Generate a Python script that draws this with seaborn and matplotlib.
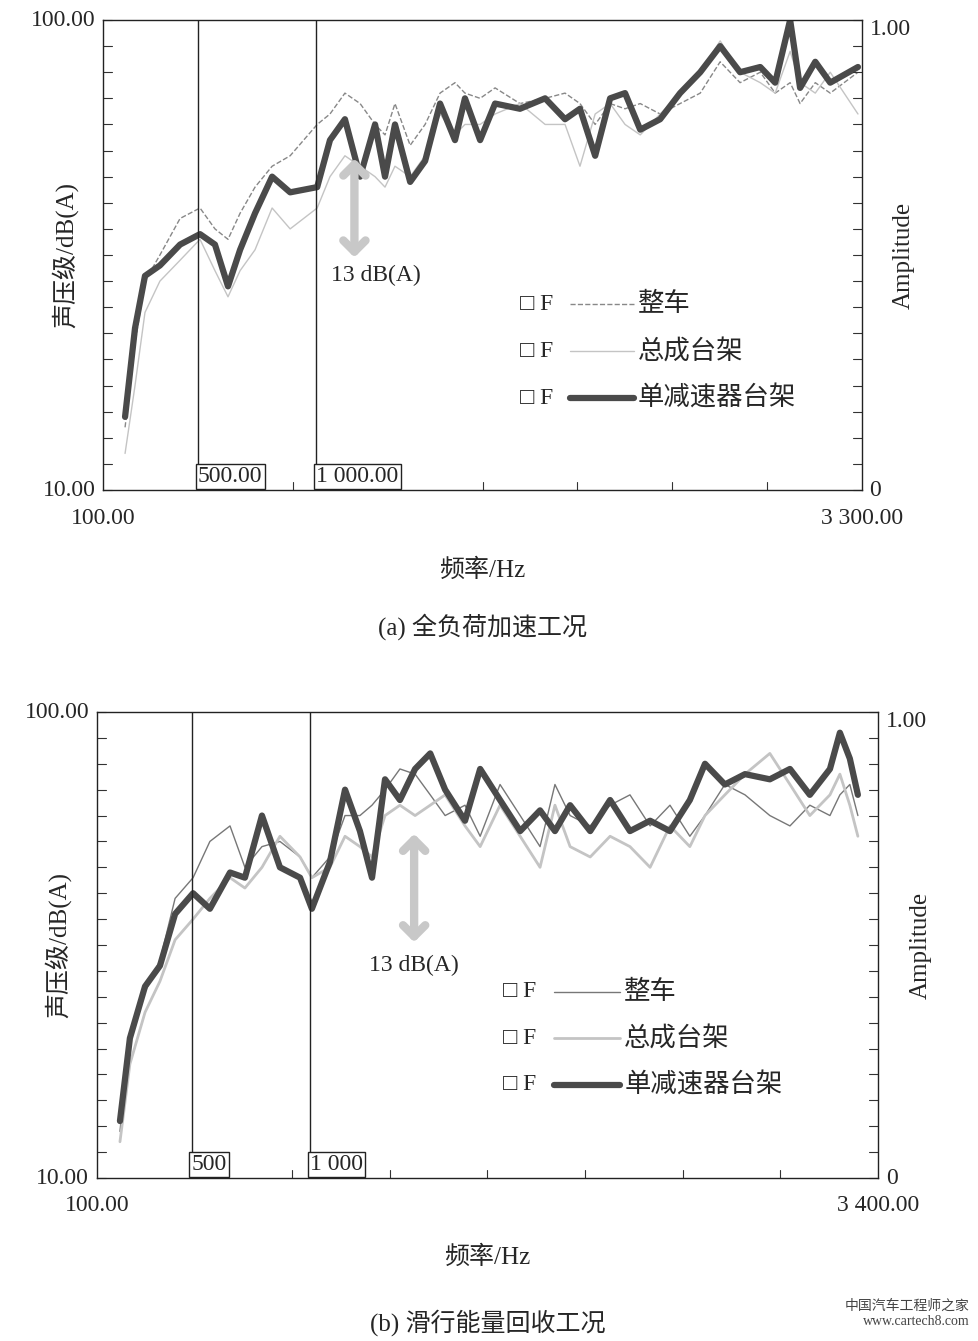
import matplotlib
matplotlib.use("Agg")
import matplotlib.pyplot as plt
import seaborn as sns
import pandas as pd
import numpy as np

sns.set_style("white")
plt.rcParams['font.family'] = ['Liberation Serif', 'Noto Sans CJK SC']

a_freq = [193,235,277,340,425,509,572,627,678,741,813,889,1003,1057,1120,1184,1247,1289,1331,1395,1458,1521,1584,1626,1690,1753,1858,1964,2048,2111,2175,2238,2301,2365,2449,2533,2618,2702,2786,2871,2934,2997,3039,3103,3166,3283]
a_thick = [24,41,51,53,57,59,57,49,56,63,70,67,68,77,81,70,80,70,80,69,73,84,77,85,77,84,83,85,81,83,74,85,86,79,81,86,90,95,90,91,88,100,87,92,88,91]
a_dash = [22,38,50,55,62,64,60,58,63,68,72,74,80,82,86,84,80,78,84,76,80,86,88,86,85,87,84,85,86,84,80,84,83,84,82,84,86,92,88,90,86,88,84,88,86,90]
a_thin = [17,30,44,50,54,58,52,47,52,56,64,60,64,70,74,72,70,68,72,70,74,82,78,80,80,82,84,80,80,72,82,84,80,78,82,86,90,96,90,88,86,94,88,86,90,82]

b_freq = [197,239,303,366,430,506,577,662,725,797,873,958,1008,1084,1148,1211,1262,1317,1380,1444,1508,1571,1655,1719,1803,1888,1972,2035,2099,2184,2268,2352,2437,2521,2605,2669,2753,2838,2943,3028,3112,3197,3239,3281,3315]
b_thick = [21,37,47,51,61,65,62,69,68,80,70,68,62,71,85,77,68,87,83,89,92,85,79,89,83,77,81,77,82,77,83,77,79,77,83,90,86,88,87,89,84,89,96,91,84]
b_thin = [19,38,46,52,64,68,75,78,70,74,75,72,68,72,80,80,82,85,89,88,84,80,82,76,86,80,74,86,80,78,82,84,78,82,76,80,86,84,80,78,82,80,84,86,80]
b_light = [17,32,42,48,56,60,64,68,66,70,76,72,68,70,76,74,72,80,82,80,82,84,78,74,82,76,70,82,74,72,76,74,70,78,74,80,84,88,92,86,80,84,88,82,76]

legend_names = ["整车", "总成台架", "单减速器台架"]

W, H = 979, 1341
fig = plt.figure(figsize=(W/100, H/100), dpi=100)

def px(x0, y0, x1, y1):
    return [x0/W, 1-y1/H, (x1-x0)/W, (y1-y0)/H]

def panel(rect, freq, series, styles, xmax, xmaxlab, boxlabs, arrow, leg, caption, capy, legstyles):
    ax = fig.add_axes(px(*rect))
    for vals, (c, lw, ls) in zip(series, styles):
        df = pd.DataFrame({"f": freq, "v": vals})
        sns.lineplot(data=df, x="f", y="v", ax=ax, color=c, lw=lw, ls=ls)
    ax.set_xlim(100, xmax); ax.set_ylim(10, 100)
    ax.set_xticks([]); ax.set_yticks([])
    ax.set_xlabel(""); ax.set_ylabel("")
    for s in ax.spines.values():
        s.set_color("#222"); s.set_linewidth(1)
    for v in [500, 1000]:
        ax.axvline(v, color="#222", lw=1)
    for y in np.linspace(10, 100, 19):
        ax.plot([100, 100 + (xmax-100)*0.012], [y, y], color="#333", lw=0.8, clip_on=False)
        ax.plot([xmax, xmax - (xmax-100)*0.012], [y, y], color="#333", lw=0.8, clip_on=False)
    for x in np.linspace(100, xmax, 9)[1:-1]:
        ax.plot([x, x], [10, 11.5], color="#333", lw=0.8)
    tr = ax.transAxes
    ax.text(-0.01, 1.0, "100.00", transform=tr, ha="right", va="center", fontsize=17)
    ax.text(-0.01, 0.0, "10.00", transform=tr, ha="right", va="center", fontsize=17)
    ax.text(1.01, 0.98, "1.00", transform=tr, ha="left", va="center", fontsize=17)
    ax.text(1.01, 0.0, "0", transform=tr, ha="left", va="center", fontsize=17)
    ax.text(0.0, -0.06, "100.00", transform=tr, ha="center", va="center", fontsize=17)
    ax.text(1.0, -0.06, xmaxlab, transform=tr, ha="center", va="center", fontsize=17)
    ax.text(-0.05, 0.5, "声压级/dB(A)", transform=tr, rotation=90, ha="center", va="center", fontsize=18)
    ax.text(1.055, 0.5, "Amplitude", transform=tr, rotation=90, ha="center", va="center", fontsize=18)
    ax.text(0.5, -0.17, "频率/Hz", transform=tr, ha="center", va="center", fontsize=18)
    ax.text(0.5, capy, caption, transform=tr, ha="center", va="center", fontsize=18)
    for v, lab in zip([500, 1000], boxlabs):
        ax.text(v, 10.6, lab, ha="left", va="bottom", fontsize=17,
                bbox=dict(boxstyle="square,pad=0.1", fc="white", ec="#222", lw=1))
    ax_x, ay0, ay1, tx, ty = arrow
    ax.annotate("", xy=(ax_x, ay0), xytext=(ax_x, ay1),
                arrowprops=dict(arrowstyle="<->,head_width=0.8,head_length=0.8", color="#c8c8c8", lw=6))
    ax.text(tx, ty, "13 dB(A)", ha="center", va="center", fontsize=17)
    lx, ly, dy = leg
    for i, (name, (c, lw, ls)) in enumerate(zip(legend_names, legstyles)):
        yy = ly - i*dy
        ax.text(lx, yy, "□ F", transform=tr, ha="left", va="center", fontsize=17)
        ax.plot([lx+0.065, lx+0.15], [yy, yy], transform=tr, color=c, lw=lw, ls=ls)
        ax.text(lx+0.155, yy, name, transform=tr, ha="left", va="center", fontsize=19)
    return ax

sty_a = [("#888888", 1.0, "--"), ("#c4c4c4", 1.0, "-"), ("#4a4a4a", 4.5, "-")]
panel((103, 20, 862, 490), a_freq, [a_dash, a_thin, a_thick], sty_a, 3300, "3 300.00",
      ["500.00", "1 000.00"], (1160, 54, 74, 1250, 51), (0.55, 0.395, 0.1),
      "(a) 全负荷加速工况", -0.29, sty_a)

sty_b = [("#777777", 1.0, "-"), ("#c4c4c4", 2.0, "-"), ("#4a4a4a", 4.5, "-")]
panel((97, 712, 878, 1178), b_freq, [b_thin, b_light, b_thick], sty_b, 3400, "3 400.00",
      ["500", "1 000"], (1440, 55, 77, 1440, 51), (0.52, 0.4, 0.1),
      "(b) 滑行能量回收工况", -0.31, sty_b)

fig.text(0.99, 0.01, "中国汽车工程师之家\nwww.cartech8.com", ha="right", va="bottom", fontsize=10, color="#444")
fig.savefig("out.png", dpi=100, facecolor="white")
